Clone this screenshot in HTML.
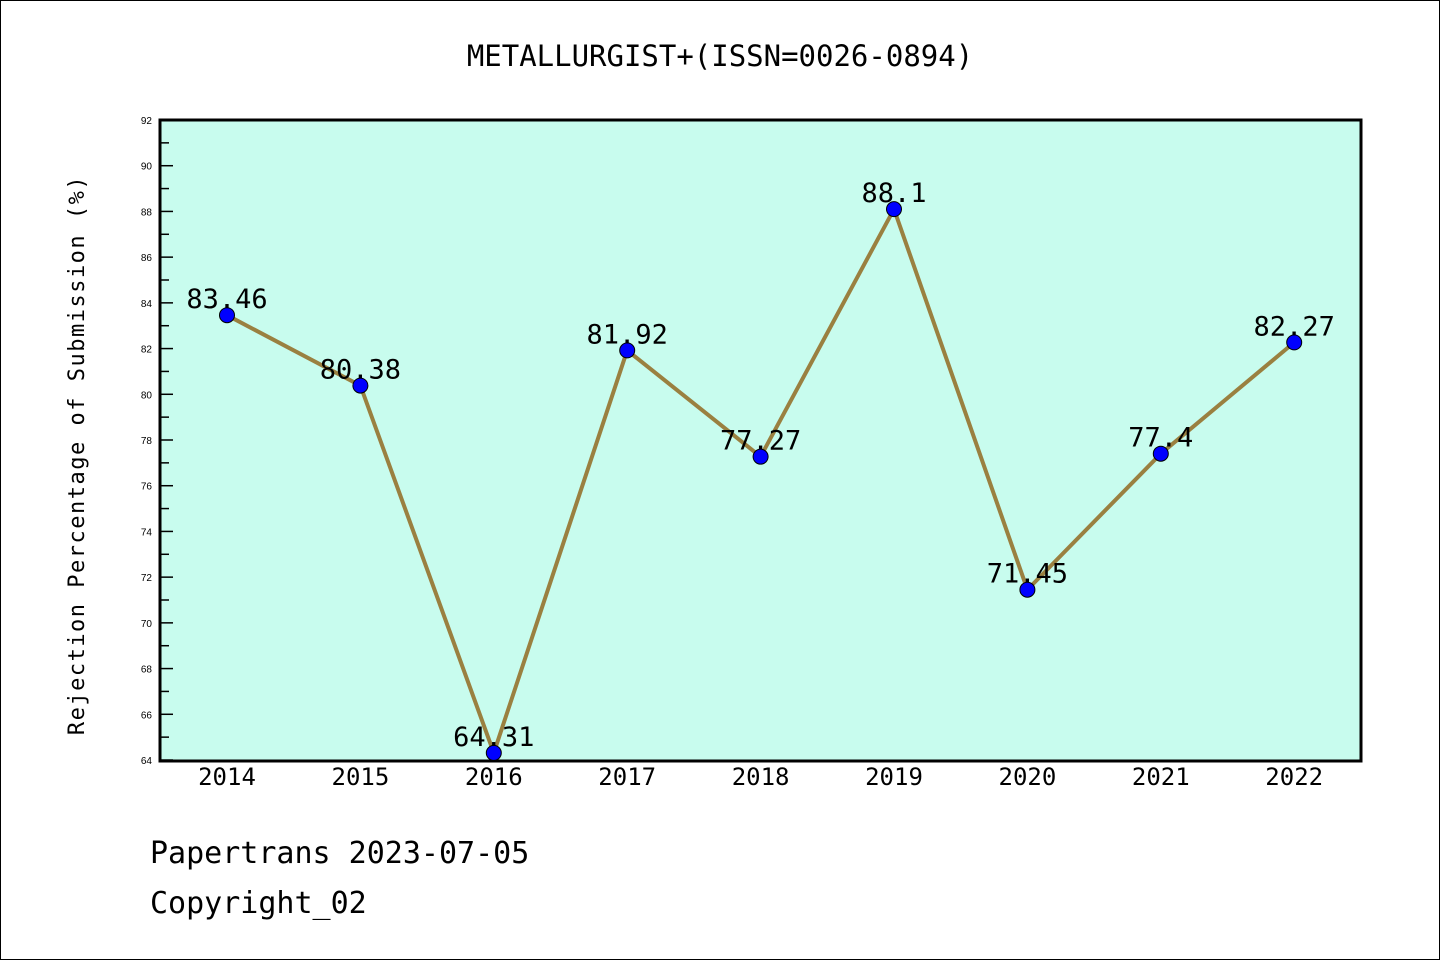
<!DOCTYPE html>
<html><head><meta charset="utf-8"><style>
body{margin:0;background:#fff}
svg{display:block;font-family:"DejaVu Sans Mono","Liberation Mono",monospace}
</style></head><body>
<svg id="c" width="1440" height="960">
<rect x="0.5" y="0.5" width="1439" height="959" fill="#fff" stroke="#000"/>
<text x="720" y="66" text-anchor="middle" font-size="29">METALLURGIST+(ISSN=0026-0894)</text>
<rect x="160" y="120" width="1201" height="641" fill="#c8fcee" stroke="#000" stroke-width="3"/>
<g id="ax"></g><g id="ser"></g>
<text transform="translate(84,455) rotate(-90)" text-anchor="middle" font-size="22" letter-spacing="1.5">Rejection Percentage of Submission (%)</text>
<text x="150" y="863" font-size="30">Papertrans 2023-07-05</text>
<text x="150" y="913" font-size="30">Copyright_02</text>
</svg>
<script>
const years=["2014","2015","2016","2017","2018","2019","2020","2021","2022"];
const values=[83.46,80.38,64.31,81.92,77.27,88.1,71.45,77.4,82.27];
const labels=["83.46","80.38","64.31","81.92","77.27","88.1","71.45","77.4","82.27"];
const yTicks=[64,66,68,70,72,74,76,78,80,82,84,86,88,90,92];
const NS="http://www.w3.org/2000/svg";
const x=i=>227+i*133.4;
const y=v=>760-(v-64)*(640/28);
function mk(t,a,p){const e=document.createElementNS(NS,t);for(const k in a)e.setAttribute(k,a[k]);p.appendChild(e);return e;}
const ax=document.getElementById('ax'),ser=document.getElementById('ser');
yTicks.forEach(v=>{
 const l=mk('line',{x1:160,x2:173,y1:y(v),y2:y(v),stroke:'#000','stroke-width':1.5},ax);
 
 
 const t=mk('text',{x:152,y:y(v)+4,'text-anchor':'end','font-size':10,'font-family':'Liberation Sans, sans-serif'},ax);t.textContent=v;
 
 
 if(v<92){const m=mk('line',{x1:160,x2:169,y1:y(v+1),y2:y(v+1),stroke:'#000','stroke-width':1.5},ax);
 
 }
});
years.forEach((yr,i)=>{
 const t=mk('text',{x:x(i),y:785,'text-anchor':'middle','font-size':24},ax);t.textContent=yr;
 
 
});
const pl=mk('polyline',{points:values.map((v,i)=>x(i)+','+y(v)).join(' '),fill:'none',stroke:'#9a8040','stroke-width':4},ser);


values.forEach((v,i)=>{
 const c=mk('circle',{cx:x(i),cy:y(v),r:7.5,fill:'#0000ff',stroke:'#000','stroke-width':1},ser);
 
 
 const t=mk('text',{x:x(i),y:y(v)-7,'text-anchor':'middle','font-size':27},ser);t.textContent=labels[i];
 
 
});
</script>
</body></html>
